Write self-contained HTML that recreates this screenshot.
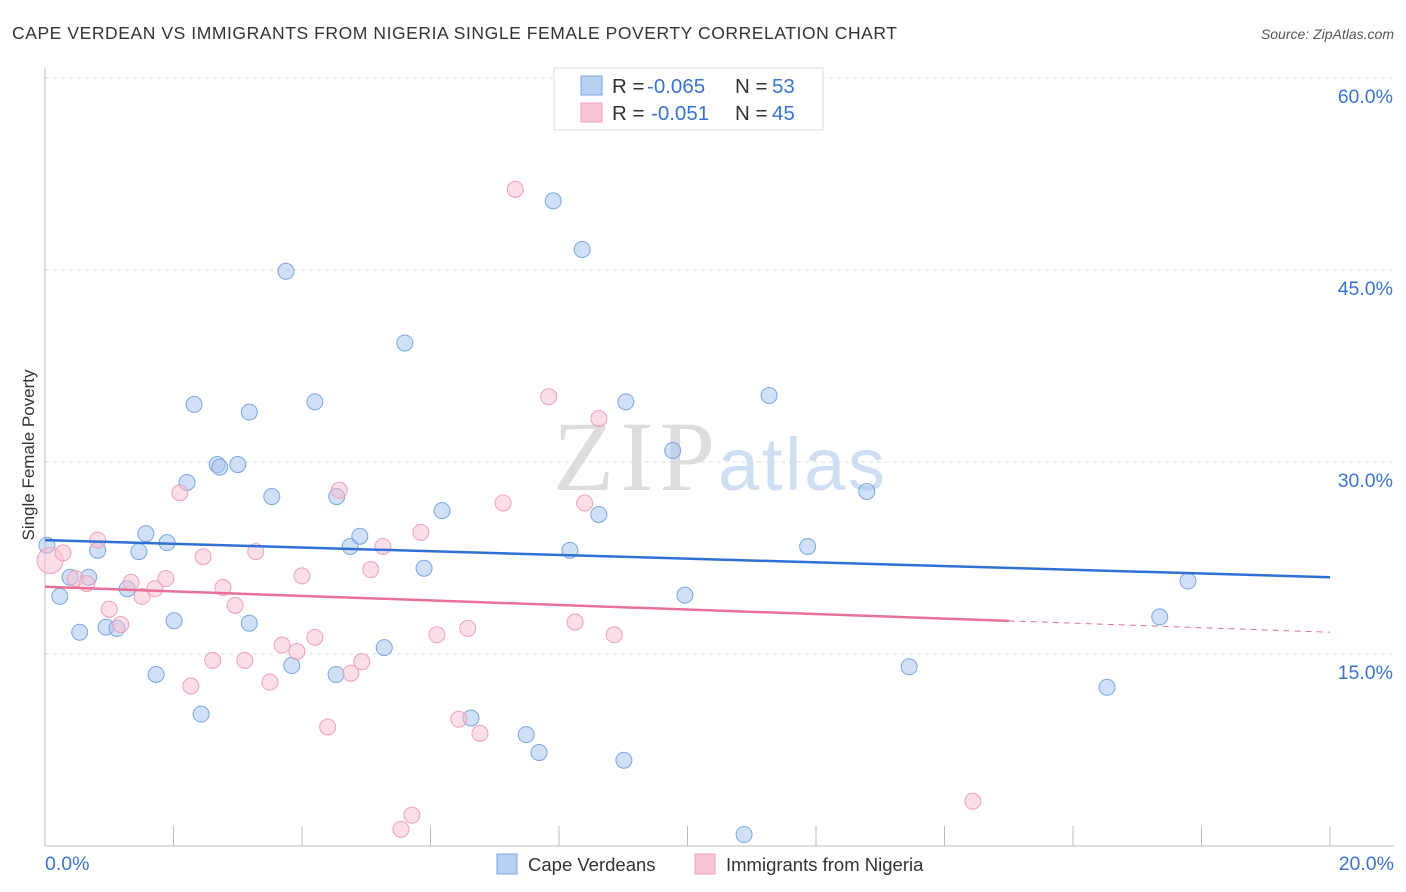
<!DOCTYPE html>
<html><head><meta charset="utf-8"><style>
body{margin:0;background:#fff;font-family:"Liberation Sans",sans-serif;}
svg{display:block}
</style></head><body>
<svg id="c" width="1406" height="892">
<text x="12" y="39" font-size="17.5" fill="#333" textLength="885" lengthAdjust="spacing">CAPE VERDEAN VS IMMIGRANTS FROM NIGERIA SINGLE FEMALE POVERTY CORRELATION CHART</text>
<text x="1394" y="39" font-size="14" fill="#555" font-style="italic" text-anchor="end">Source: ZipAtlas.com</text>
<text x="34" y="455" font-size="17" fill="#333" text-anchor="middle" transform="rotate(-90 34 455)">Single Female Poverty</text>
<text x="553" y="490" font-size="100" fill="#ddd" font-family="Liberation Serif,serif" textLength="162">ZIP</text>
<text x="718" y="490" font-size="74" fill="#cfdff3" textLength="167">atlas</text>
<g id="grid"></g><g id="marks"></g>
<g>
<rect x="554" y="68" width="269" height="62" fill="#fff" stroke="#ddd"/>
<rect x="581" y="76" width="21" height="19" fill="#b7d0f2" stroke="#7aa7e0"/>
<rect x="581" y="103" width="21" height="19" fill="#f8c6d4" stroke="#f0a0b8"/>
<text y="93" font-size="20.5" fill="#333"><tspan x="612">R =</tspan><tspan x="647" fill="#3a74d0">-0.065</tspan><tspan x="735">N =</tspan><tspan x="772" fill="#3a74d0">53</tspan></text>
<text y="120" font-size="20.5" fill="#333"><tspan x="612">R =</tspan><tspan x="651" fill="#3a74d0">-0.051</tspan><tspan x="735">N =</tspan><tspan x="772" fill="#3a74d0">45</tspan></text>
</g>
<g>
<rect x="497" y="854" width="20" height="20" fill="#b7d0f2" stroke="#7aa7e0"/>
<text x="528" y="871" font-size="18.5" fill="#333">Cape Verdeans</text>
<rect x="695" y="854" width="20" height="20" fill="#f8c6d4" stroke="#f0a0b8"/>
<text x="726" y="871" font-size="18.5" fill="#333">Immigrants from Nigeria</text>
</g>
</svg>
<script>
const blueX=[0.03,0.23,0.39,0.54,0.68,0.82,0.95,1.12,1.28,1.46,1.57,1.73,1.90,2.01,2.21,2.32,2.43,2.68,2.72,3.00,3.18,3.18,3.53,3.75,3.84,4.20,4.53,4.54,4.75,4.90,5.28,5.60,5.90,6.18,6.63,7.49,7.69,7.91,8.17,8.36,8.62,9.01,9.04,9.77,9.96,10.88,11.27,11.87,12.79,13.45,16.53,17.35,17.79];
const blueY=[23.5,19.5,21.0,16.7,21.0,23.1,17.1,17.0,20.1,23.0,24.4,13.4,23.7,17.6,28.4,34.5,10.3,29.8,29.6,29.8,33.9,17.4,27.3,44.9,14.1,34.7,13.4,27.3,23.4,24.2,15.5,39.3,21.7,26.2,10.0,8.7,7.3,50.4,23.1,46.6,25.9,6.7,34.7,30.9,19.6,0.9,35.2,23.4,27.7,14.0,12.4,17.9,20.7];
const pinkX=[0.08,0.28,0.47,0.65,0.82,1.00,1.18,1.34,1.51,1.71,1.88,2.10,2.27,2.46,2.61,2.77,2.96,3.11,3.28,3.50,3.69,3.92,4.00,4.20,4.40,4.58,4.76,4.93,5.07,5.26,5.54,5.71,5.85,6.10,6.44,6.58,6.77,7.13,7.32,7.84,8.25,8.40,8.62,8.86,14.44];
const pinkY=[22.3,22.9,20.9,20.5,23.9,18.5,17.3,20.6,19.5,20.1,20.9,27.6,12.5,22.6,14.5,20.2,18.8,14.5,23.0,12.8,15.7,15.2,21.1,16.3,9.3,27.8,13.5,14.4,21.6,23.4,1.3,2.4,24.5,16.5,9.9,17.0,8.8,26.8,51.3,35.1,17.5,26.8,33.4,16.5,3.5];
const blueTrend=[23.9,21.0];
const pinkTrend=[20.25,16.7];
const yTicks=[15,30,45,60];
const xTickVals=[0,2,4,6,8,10,12,14,16,18,20];
const NS='http://www.w3.org/2000/svg';
const X=v=>45+v/20*1285, Y=v=>846-v/60*768;
function mk(t,a,p){const e=document.createElementNS(NS,t);for(const k in a)e.setAttribute(k,a[k]);p.appendChild(e);return e;}
const g=document.getElementById('grid'),m=document.getElementById('marks');
yTicks.forEach(t=>{
 const l=mk('line',{x1:45,x2:1394,y1:Y(t),y2:Y(t),stroke:'#ddd','stroke-dasharray':'4,4'},g);
 
 
 const tx=mk('text',{x:1393,y:Y(t)+25,'font-size':19.5,fill:'#3a74d0','text-anchor':'end'},g);
 tx.textContent=t.toFixed(1)+'%';
 
 
});
mk('line',{x1:45,x2:45,y1:68,y2:846,stroke:'#bbb'},g);
mk('line',{x1:45,x2:1394,y1:846,y2:846,stroke:'#bbb'},g);
xTickVals.forEach(t=>{
 const l=mk('line',{x1:X(t),x2:X(t),y1:826,y2:846,stroke:'#bbb'},g);
 
 
});
[[0,'0.0%','start',45],[20,'20.0%','end',1394]].forEach(d=>{
 const tx=mk('text',{x:d[3],y:870,'font-size':19.5,fill:'#3a74d0','text-anchor':d[2]},g);
 tx.textContent=d[1];
 
 
});
blueX.forEach((x,i)=>{
 const c=mk('circle',{cx:X(x),cy:Y(blueY[i]),r:8,fill:'rgba(170,199,240,0.55)',stroke:'#7aa7e0','stroke-width':1},m);
 
 
});
pinkX.forEach((x,i)=>{
 const c=mk('circle',{cx:X(x),cy:Y(pinkY[i]),r:i==0?13:8,fill:'rgba(248,190,208,0.5)',stroke:'#f0a0b8','stroke-width':1},m);
 
 
});
let l=mk('line',{x1:X(0),y1:Y(blueTrend[0]),x2:X(20),y2:Y(blueTrend[1]),stroke:'#2f6fd6','stroke-width':2.5},m);


const pm=pinkTrend[0]+(pinkTrend[1]-pinkTrend[0])*0.75;
l=mk('line',{x1:X(0),y1:Y(pinkTrend[0]),x2:X(15),y2:Y(pm),stroke:'#e87099','stroke-width':2.5},m);


l=mk('line',{x1:X(15),y1:Y(pm),x2:X(20),y2:Y(pinkTrend[1]),stroke:'#e87099','stroke-width':1,'stroke-dasharray':'6,5'},m);


</script>
</body></html>
